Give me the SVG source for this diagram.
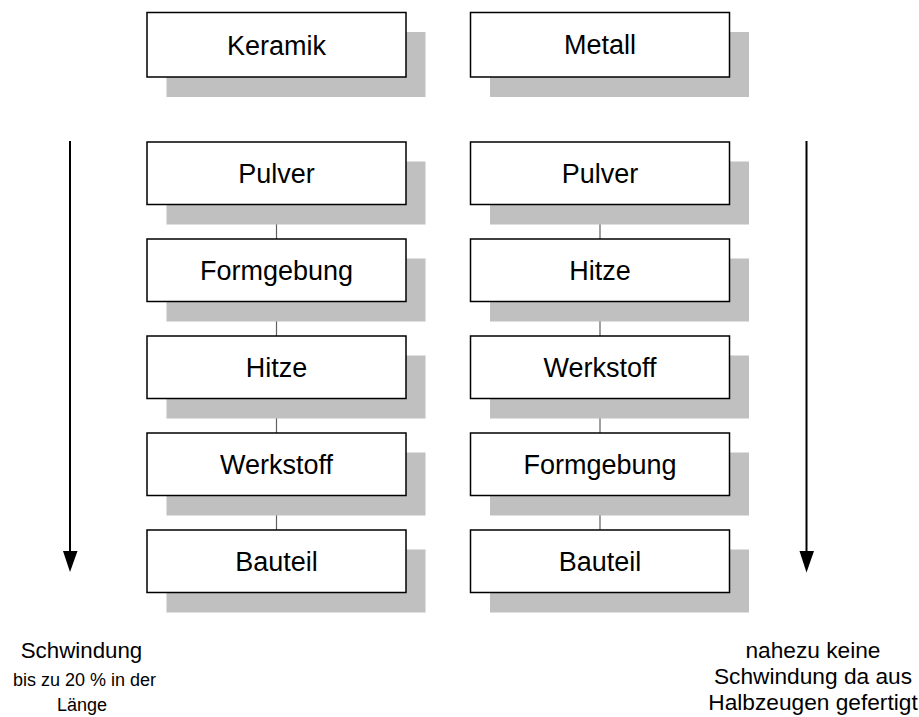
<svg xmlns="http://www.w3.org/2000/svg" width="919" height="717" viewBox="0 0 919 717">
<style>
.sh{fill:#c0c0c0}
.bx{fill:#fff;stroke:#000;stroke-width:1.5}
.t{font-family:"Liberation Sans",Arial,sans-serif;font-size:27px;fill:#000;text-anchor:middle}
.c{stroke:#606060;stroke-width:1.2;fill:none}
.a{stroke:#000;stroke-width:2;fill:none}
.lbl{font-family:"Liberation Sans",Arial,sans-serif;fill:#000;text-anchor:middle}
</style>
<rect width="919" height="717" fill="#fff"/>
<g id="connectors">
<line class="c" x1="276.5" y1="204.5" x2="276.5" y2="239"/>
<line class="c" x1="276.5" y1="301.5" x2="276.5" y2="336"/>
<line class="c" x1="276.5" y1="398.5" x2="276.5" y2="433"/>
<line class="c" x1="276.5" y1="495.5" x2="276.5" y2="530"/>
<line class="c" x1="600" y1="204.5" x2="600" y2="239"/>
<line class="c" x1="600" y1="301.5" x2="600" y2="336"/>
<line class="c" x1="600" y1="398.5" x2="600" y2="433"/>
<line class="c" x1="600" y1="495.5" x2="600" y2="530"/>
<line class="a" x1="70" y1="141" x2="70" y2="553"/>
<polygon points="63,551 77.5,551 70,572" fill="#000"/>
<line class="a" x1="806.5" y1="141" x2="806.5" y2="553"/>
<polygon points="799.5,551 814,551 806.5,572.5" fill="#000"/>
</g>
<g id="keramik"><rect class="sh" x="166.5" y="32" width="259" height="65"/><rect class="bx" x="147" y="12.5" width="259" height="64.5"/><text class="t" x="276.5" y="54.5">Keramik</text></g>
<g id="metall"><rect class="sh" x="490" y="32" width="259" height="65"/><rect class="bx" x="470.5" y="12.5" width="259" height="64.5"/><text class="t" x="600" y="54">Metall</text></g>
<g id="k-pulver"><rect class="sh" x="166.5" y="161.5" width="259" height="63"/><rect class="bx" x="147" y="142" width="259" height="62.5"/><text class="t" x="276.5" y="183">Pulver</text></g>
<g id="k-formgebung"><rect class="sh" x="166.5" y="258.5" width="259" height="63"/><rect class="bx" x="147" y="239" width="259" height="62.5"/><text class="t" x="276.5" y="280">Formgebung</text></g>
<g id="k-hitze"><rect class="sh" x="166.5" y="355.5" width="259" height="63"/><rect class="bx" x="147" y="336" width="259" height="62.5"/><text class="t" x="276.5" y="377">Hitze</text></g>
<g id="k-werkstoff"><rect class="sh" x="166.5" y="452.5" width="259" height="63"/><rect class="bx" x="147" y="433" width="259" height="62.5"/><text class="t" x="276.5" y="474">Werkstoff</text></g>
<g id="k-bauteil"><rect class="sh" x="166.5" y="549.5" width="259" height="63"/><rect class="bx" x="147" y="530" width="259" height="62.5"/><text class="t" x="276.5" y="571">Bauteil</text></g>
<g id="m-pulver"><rect class="sh" x="490" y="161.5" width="259" height="63"/><rect class="bx" x="470.5" y="142" width="259" height="62.5"/><text class="t" x="600" y="183">Pulver</text></g>
<g id="m-hitze"><rect class="sh" x="490" y="258.5" width="259" height="63"/><rect class="bx" x="470.5" y="239" width="259" height="62.5"/><text class="t" x="600" y="280">Hitze</text></g>
<g id="m-werkstoff"><rect class="sh" x="490" y="355.5" width="259" height="63"/><rect class="bx" x="470.5" y="336" width="259" height="62.5"/><text class="t" x="600" y="377">Werkstoff</text></g>
<g id="m-formgebung"><rect class="sh" x="490" y="452.5" width="259" height="63"/><rect class="bx" x="470.5" y="433" width="259" height="62.5"/><text class="t" x="600" y="474">Formgebung</text></g>
<g id="m-bauteil"><rect class="sh" x="490" y="549.5" width="259" height="63"/><rect class="bx" x="470.5" y="530" width="259" height="62.5"/><text class="t" x="600" y="571">Bauteil</text></g>
<g id="label-left">
<text class="lbl" x="81.5" y="657.5" font-size="22.3">Schwindung</text>
<text class="lbl" x="84.5" y="686" font-size="18">bis zu 20 % in der</text>
<text class="lbl" x="82" y="710.5" font-size="18">Länge</text>
</g>
<g id="label-right">
<text class="lbl" x="813" y="657.5" font-size="22.7">nahezu keine</text>
<text class="lbl" x="813" y="684" font-size="22.7">Schwindung da aus</text>
<text class="lbl" x="813" y="709.5" font-size="22.7">Halbzeugen gefertigt</text>
</g>
</svg>
